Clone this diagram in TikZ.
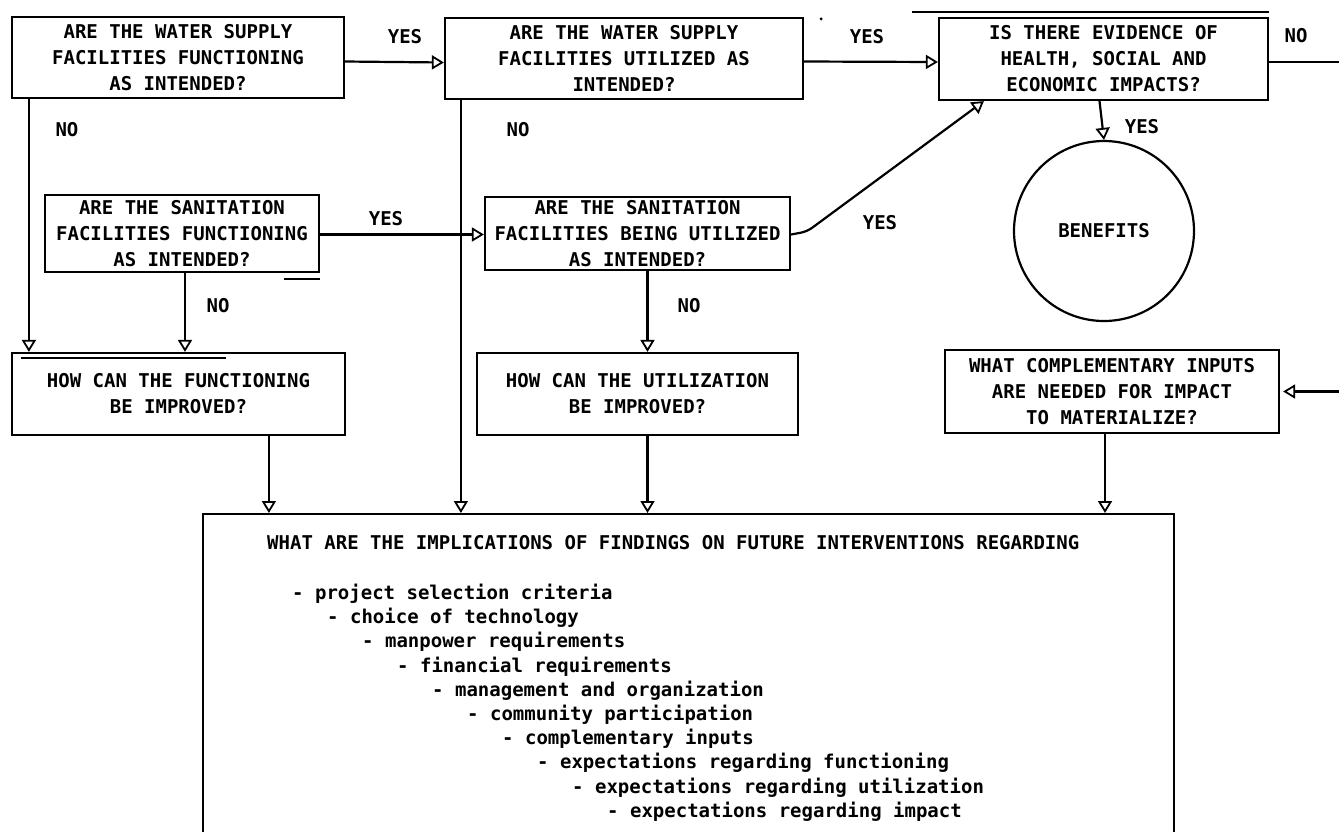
\documentclass[tikz,border=0pt]{standalone}
\usepackage{fontspec}
\setmonofont{DejaVu Sans Mono}
\usetikzlibrary{arrows.meta,calc}
\begin{document}
\begin{tikzpicture}[x=1pt,y=-1pt,
  every node/.style={font=\ttfamily\bfseries\fontsize{19}{26}\selectfont},
  qbox/.style={draw, line width=2.2pt, rectangle, align=center, inner sep=0pt},
  lbl/.style={inner sep=0pt},
  arr/.style={line width=2.2pt, -{Triangle[open,length=12pt,width=14pt,line width=1.8pt]}},
  thin/.style={line width=1.6pt}
]
\useasboundingbox (0,0) rectangle (1339,831);

% question boxes
\node[qbox, minimum width=332pt, minimum height=81pt] (A) at (178,57.5)
  {ARE THE WATER SUPPLY\\FACILITIES FUNCTIONING\\AS INTENDED?};
\node[qbox, minimum width=358pt, minimum height=81pt] (B) at (624,58.5)
  {ARE THE WATER SUPPLY\\FACILITIES UTILIZED AS\\INTENDED?};
\node[qbox, minimum width=329pt, minimum height=82pt] (C) at (1103.5,59)
  {IS THERE EVIDENCE OF\\HEALTH, SOCIAL AND\\ECONOMIC IMPACTS?};
\node[qbox, minimum width=274pt, minimum height=77pt] (D) at (182,233.5)
  {ARE THE SANITATION\\FACILITIES FUNCTIONING\\AS INTENDED?};
\node[qbox, minimum width=305pt, minimum height=73pt] (G) at (637.5,233.5)
  {ARE THE SANITATION\\FACILITIES BEING UTILIZED\\AS INTENDED?};
\node[qbox, minimum width=333pt, minimum height=82pt] (E) at (178.5,394)
  {HOW CAN THE FUNCTIONING\\BE IMPROVED?};
\node[qbox, minimum width=321pt, minimum height=82pt] (H) at (637.5,394)
  {HOW CAN THE UTILIZATION\\BE IMPROVED?};
\node[qbox, minimum width=334pt, minimum height=83pt] (F) at (1112,391.5)
  {WHAT COMPLEMENTARY INPUTS\\ARE NEEDED FOR IMPACT\\TO MATERIALIZE?};
\node[draw, circle, line width=2.2pt, minimum size=180pt, inner sep=0pt] (ben) at (1104,231) {BENEFITS};

% implications box (open at the bottom, continues past the page)
\node[draw, line width=2.2pt, minimum width=971pt, minimum height=420pt, anchor=north west, inner sep=0pt] (impl) at (202,513) {};
\node[lbl, anchor=west] (head) at (267,543)
  {WHAT ARE THE IMPLICATIONS OF FINDINGS ON FUTURE INTERVENTIONS REGARDING};
\foreach \txt [count=\i from 0] in {project selection criteria, choice of technology,
  manpower requirements, financial requirements, management and organization,
  community participation, complementary inputs, expectations regarding functioning,
  expectations regarding utilization, expectations regarding impact}
  \node[lbl, anchor=west, text height=13pt, text depth=4pt] (l\i) at (292+35*\i, 595+24.2*\i) {- \txt};

% labels
\node[lbl] (yes1) at (405,37) {YES};
\node[lbl] (yes2) at (867,37) {YES};
\node[lbl] (no3) at (1296,36) {NO};
\node[lbl] (no1) at (67,130) {NO};
\node[lbl] (no2) at (518,130) {NO};
\node[lbl] (yes3) at (1142,127) {YES};
\node[lbl] (yes4) at (386,219) {YES};
\node[lbl] (no4) at (218,306) {NO};
\node[lbl] (yes5) at (880,223) {YES};
\node[lbl] (no5) at (689,306) {NO};

% connectors
\draw[arr] ([yshift=-4pt]A.east) -- ([yshift=-4pt]B.west);
\draw[arr] ([yshift=-3pt]B.east) -- ([yshift=-3pt]C.west);
\draw[arr] ([yshift=-3pt]C.east) -- ++(100,0) |- ([xshift=3pt]F.east);
\draw[arr] ([xshift=-4pt]C.south) -- (ben.north);
\draw[arr] ([xshift=18pt]A.south west) -- ([xshift=18pt]E.north west);
\draw[arr] ([xshift=3pt]D.south) -- ([xshift=3pt]D.south |- E.north);
\draw[arr] ([yshift=-1pt]D.east) -- ([yshift=-1pt]G.west);
\draw[arr] ([xshift=17pt]B.south west) -- ([xshift=17pt]B.south west |- impl.north);
\draw[arr] ([xshift=10pt]G.south) -- ([xshift=10pt]G.south |- H.north);
\draw[arr, rounded corners=6pt] ([yshift=-1pt]G.east) -- ++(16,-3) -- ([xshift=46pt]C.south west);
\draw[arr] ([xshift=258pt]E.south west) -- ([xshift=258pt]E.south west |- impl.north);
\draw[arr] ([xshift=10pt]H.south) -- ([xshift=10pt]H.south |- impl.north);
\draw[arr] ([xshift=-7pt]F.south) -- ([xshift=-7pt]F.south |- impl.north);

% small marks of the original print
\draw[thin] ([xshift=-36pt,yshift=-6pt]D.south east) -- ([yshift=-6pt]D.south east);
\draw[thin] ([xshift=10pt,yshift=-6pt]E.north west) -- ([xshift=215pt,yshift=-6pt]E.north west);
\draw[thin] ([xshift=-26pt,yshift=5pt]C.north west) -- ([yshift=5pt]C.north east);
\fill ([xshift=17pt,yshift=-2pt]B.north east) circle (1.6pt);
\end{tikzpicture}
\end{document}
